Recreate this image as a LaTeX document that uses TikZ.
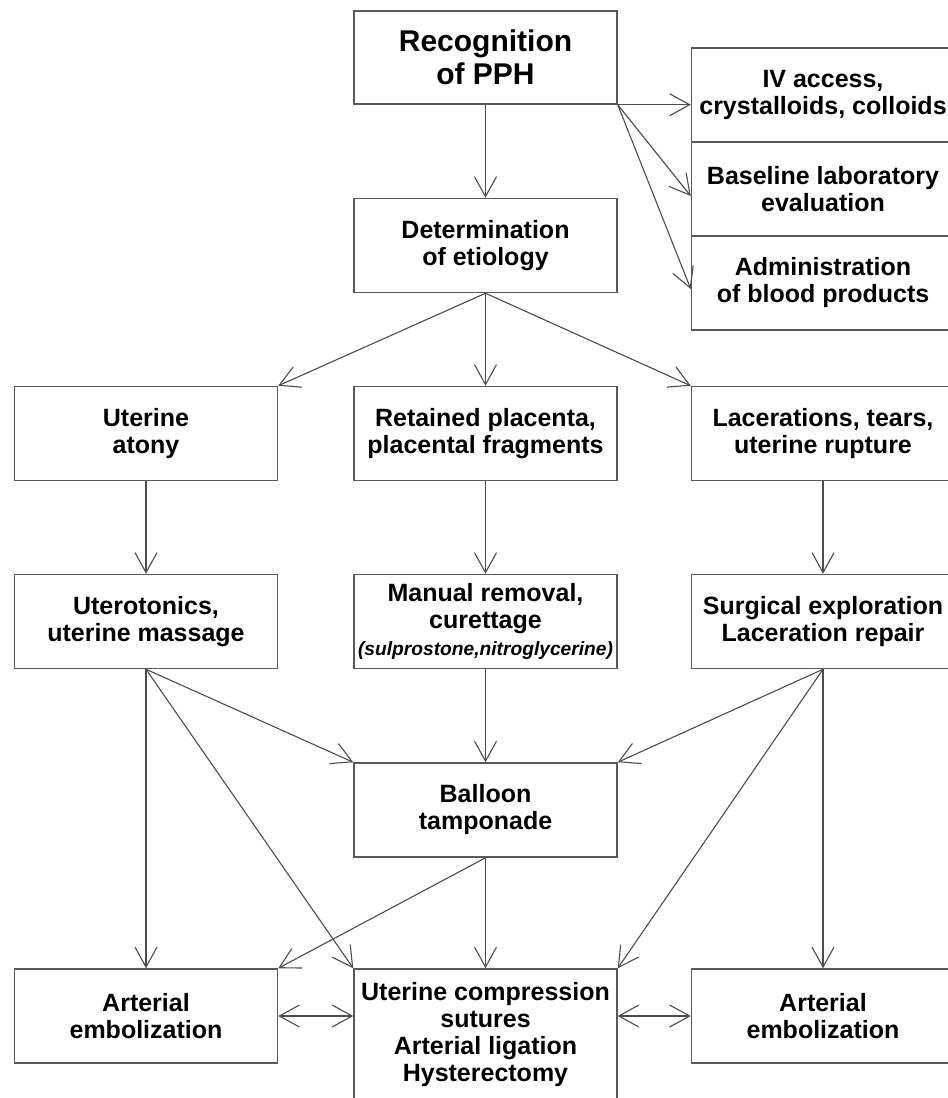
\documentclass[tikz,border=0pt]{standalone}
\usepackage{fontspec}
\setmainfont{Liberation Sans}
\usetikzlibrary{arrows.meta}

\begin{document}
\begin{tikzpicture}[x=0.5pt, y=-0.5pt,
        >={Straight Barb[length=10pt, width=11pt, line width=0.55pt]},
        box/.style={draw=black!65, line width=0.75pt, rectangle, align=center,
          inner sep=0pt, minimum width=131.5pt, minimum height=47pt,
          font=\fontsize{12.5}{13.5}\selectfont\bfseries},
        bigbox/.style={box, font=\fontsize{15}{16.5}\selectfont\bfseries},
        link/.style={draw=black!70, line width=0.55pt, line join=round, ->}]
        \useasboundingbox (0,0) rectangle (948,1098);
        % top
        \node[bigbox, minimum height=46.5pt] (rec) at (485.5,57.5) {Recognition\\of PPH};
        \node[box] (iv) at (823,95) {IV access,\\crystalloids, colloids};
        \node[box] (lab) at (823,189) {Baseline laboratory\\evaluation};
        \node[box] (blood) at (823,283) {Administration\\of blood products};
        \node[box] (det) at (485.5,245.5) {Determination\\of etiology};
        % causes
        \node[box] (atony) at (146,433.5) {Uterine\\atony};
        \node[box] (plac) at (485.5,433.5) {Retained placenta,\\placental fragments};
        \node[box] (lacer) at (823,433.5) {Lacerations, tears,\\uterine rupture};
        % first treatment
        \node[box] (uterot) at (146,621.5) {Uterotonics,\\uterine massage};
        \node[box] (manual) at (485.5,621.5) {Manual removal,\\curettage\\{\fontsize{9.6}{12.5}\selectfont\itshape (sulprostone,nitroglycerine)}};
        \node[box] (surg) at (823,621.5) {Surgical exploration\\Laceration repair};
        \node[box] (balloon) at (485.5,810) {Balloon\\tamponade};
        % last resort
        \node[box] (embL) at (146,1016) {Arterial\\embolization};
        \node[box, minimum height=66pt] (comp) at (485.5,1035) {Uterine compression\\sutures\\Arterial ligation\\Hysterectomy};
        \node[box] (embR) at (823,1016) {Arterial\\embolization};

        \draw[link] (rec.south) -- (det.north);
        \draw[link] (rec.south east) -- (rec.south east -| iv.west);
        \draw[link] (rec.south east) -- ([yshift=-3.5pt]lab.west);
        \draw[link] (rec.south east) -- ([yshift=-3pt]blood.west);
        \draw[link] (det.south) -- (atony.north east);
        \draw[link] (det.south) -- (plac.north);
        \draw[link] (det.south) -- (lacer.north west);
        \draw[link] (atony.south) -- (uterot.north);
        \draw[link] (plac.south) -- (manual.north);
        \draw[link] (lacer.south) -- (surg.north);
        \draw[link] (uterot.south) -- (balloon.north west);
        \draw[link] (uterot.south) -- (comp.north west);
        \draw[link] (uterot.south) -- (embL.north);
        \draw[link] (manual.south) -- (balloon.north);
        \draw[link] (surg.south) -- (balloon.north east);
        \draw[link] (surg.south) -- (comp.north east);
        \draw[link] (surg.south) -- (embR.north);
        \draw[link] (balloon.south) -- (embL.north east);
        \draw[link] (balloon.south) -- (comp.north);
        \draw[link, <->] (embL.east) -- (embL.east -| comp.west);
        \draw[link, <->] (embR.west -| comp.east) -- (embR.west);
      \end{tikzpicture}
\end{document}
